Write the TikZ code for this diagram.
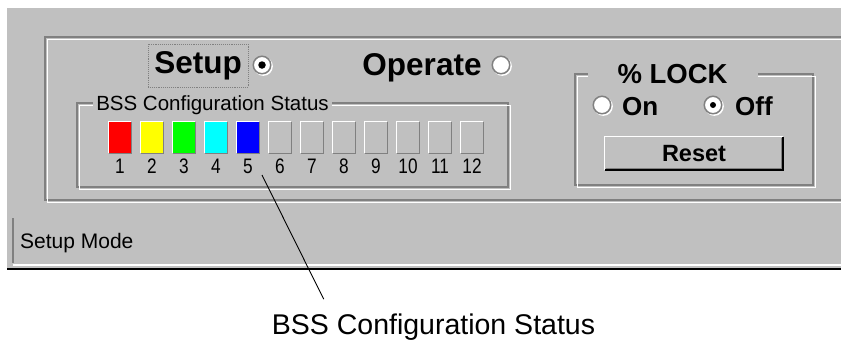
\documentclass[tikz,border=0pt]{standalone}
\usepackage{fontspec}
\setmainfont{Liberation Sans}
\newfontfamily\narrowdigits[FakeStretch=0.82]{Liberation Sans}
\usetikzlibrary{calc, positioning}
\definecolor{panelgray}{HTML}{C0C0C0}
\definecolor{shadegray}{HTML}{808080}
\definecolor{ledred}{HTML}{FF0000}
\definecolor{ledyellow}{HTML}{FFFF00}
\definecolor{ledgreen}{HTML}{00FF00}
\definecolor{ledcyan}{HTML}{00FFFF}
\definecolor{ledblue}{HTML}{0000FF}

\begin{document}
\begin{tikzpicture}[
    x=1pt, y=-1pt,
    etchdark/.style={draw=shadegray, line width=1.2pt},
    etchlight/.style={draw=white, line width=1.2pt},
    grouplabel/.style={fill=panelgray, inner xsep=3pt, inner ysep=1pt, anchor=base, font=\fontsize{20.5}{22}\selectfont},
    led/.style={minimum width=22pt, minimum height=31pt, inner sep=0pt},
    ledno/.style={anchor=base, inner sep=0pt, font=\narrowdigits\fontsize{21}{22}\selectfont},
    radio/.style={circle, inner sep=0pt, minimum size=17.5pt, fill=white, draw=shadegray, line width=1.5pt,
        preaction={draw=white, line width=1.6pt, transform canvas={shift={(1.3pt,-1.3pt)}}}},
    radiodot/.style={circle, inner sep=0pt, minimum size=7.5pt, fill=black},
    modetext/.style={anchor=base, inner sep=0pt, font=\fontsize{31.5}{33}\selectfont\bfseries},
    locktext/.style={anchor=base west, inner sep=0pt, font=\fontsize{26}{28}\selectfont\bfseries},
]

% Page and window panel
\fill[white] (0,0) rectangle (841,341);
\useasboundingbox (0,0) rectangle (841,341);
\fill[panelgray] (7,8) rectangle (841,270);

% Outer group box (runs off to the right)
\draw[etchdark] (841,37) -| (45,200) -- (841,200);
\draw[etchlight] (841,39.5) -| (47.5,202.5) -- (841,202.5);

% Setup / Operate selectors
\node[modetext, anchor=center, draw=shadegray, densely dotted, line width=0.9pt,
      minimum width=100pt, minimum height=43pt] (setup) at (198,65.5) {Setup};
\node[radio] (rsetup) at (262,65) {};
\node[radiodot] at (rsetup) {};
\node[modetext] (operate) at (422,75) {Operate};
\node[radio] (roperate) at (501,65) {};

% BSS configuration group
\draw[etchdark] (77,103) rectangle (508,187);
\draw[etchlight] (79.5,105.5) rectangle (510.5,189.5);
\node[grouplabel] (bsslabel) at (212.5,110) {BSS Configuration Status};

\foreach \i/\col in {1/ledred, 2/ledyellow, 3/ledgreen, 4/ledcyan, 5/ledblue,
                     6/panelgray, 7/panelgray, 8/panelgray, 9/panelgray,
                     10/panelgray, 11/panelgray, 12/panelgray} {
    \node[led, fill=\col] (led\i) at ({120+32*(\i-1)},137.5) {};
    \draw[white, line width=1.2pt] (led\i.south west) |- (led\i.north east);
    \draw[shadegray, line width=1.2pt] (led\i.south west) -| (led\i.north east);
    \node[ledno] (num\i) at ({120+32*(\i-1)},173) {\i};
}

% % LOCK group
\draw[etchdark] (575,74) rectangle (813,185);
\draw[etchlight] (577.5,76.5) rectangle (815.5,187.5);
\node[grouplabel, inner xsep=30pt, font=\fontsize{27.5}{29}\selectfont\bfseries] (locklabel) at (672.5,83) {\% LOCK};
\node[radio] (ron) at (602,105) {};
\node[locktext] (on) at (622,115) {On};
\node[radio] (roff) at (713,105) {};
\node[radiodot, minimum size=6pt] at (roff) {};
\node[locktext] (off) at (735,115) {Off};

% Reset button
\node[fill=panelgray, minimum width=178pt, minimum height=33pt, inner sep=0pt,
      font=\fontsize{23.5}{25}\selectfont\bfseries] (reset) at (694,153.5) {Reset};
\draw[white, line width=1.2pt] (reset.south west) |- (reset.north east);
\draw[black, line width=1.5pt] (reset.south west) -| (reset.north east);
\draw[shadegray, line width=1.2pt] ([shift={(1.5,-1.5)}]reset.south west) -| ([shift={(-1.5,1.5)}]reset.north east);

% Status bar
\draw[shadegray, line width=1.2pt] (13,218) -- (13,263);
\draw[white, line width=1.2pt] (13,265) -- (841,265);
\draw[black, line width=1.8pt] (7,269) -- (841,269);
\node[anchor=base west, inner sep=0pt, font=\fontsize{21}{22}\selectfont] (mode) at (20,248) {Setup Mode};

% Callout
\coordinate (tip) at (262,175);
\node[anchor=base, inner sep=0pt, font=\fontsize{28.5}{30}\selectfont] (callout) at (433.5,334) {BSS Configuration Status};
\draw[black, line width=0.9pt] (tip) -- ($(callout.north west)+(52,-14)$);

\end{tikzpicture}
\end{document}
